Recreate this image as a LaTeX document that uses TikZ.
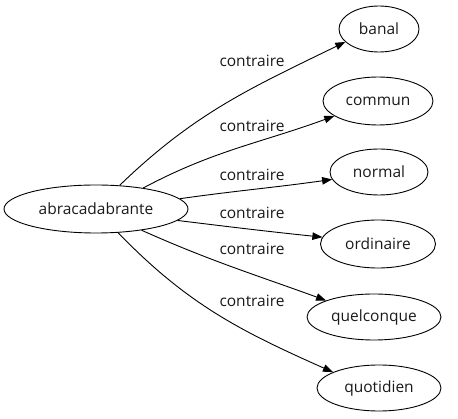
\documentclass[tikz,border=0pt]{standalone}
\usepackage{fontspec}
\setmainfont{Open Sans}
\usetikzlibrary{shapes.geometric,arrows.meta}
\begin{document}
\begin{tikzpicture}[x=1pt,y=1pt,
  word/.style={draw=black, line width=0.9pt, ellipse, inner sep=0pt, text=black!90, font=\fontsize{15.5}{17}\selectfont},
  rel/.style={text=black!90, font=\fontsize{15.5}{17}\selectfont, inner sep=0pt},
  link/.style={line width=0.9pt, -{Triangle[length=10pt,width=7.5pt]}}]
\useasboundingbox (0,0) rectangle (458,-419);
\node[word, minimum width=184, minimum height=48] (main) at (96,-209) {abracadabrante};
\node[word, minimum width=80, minimum height=46] (banal) at (379,-29) {banal};
\node[word, minimum width=110, minimum height=48] (commun) at (378,-101) {commun};
\node[word, minimum width=98, minimum height=46] (normal) at (379,-172) {normal};
\node[word, minimum width=115, minimum height=48] (ordinaire) at (378,-244) {ordinaire};
\node[word, minimum width=134, minimum height=46] (quelconque) at (374,-317) {quelconque};
\node[word, minimum width=124, minimum height=46] (quotidien) at (379,-388) {quotidien};
\node[rel] (l1) at (252,-61) {contraire};
\node[rel] (l2) at (252,-126) {contraire};
\node[rel] (l3) at (252,-175) {contraire};
\node[rel] (l4) at (252,-213) {contraire};
\node[rel] (l5) at (252,-249) {contraire};
\node[rel] (l6) at (252,-301) {contraire};
\draw[link] (main.45) to[out=44, in=206] (banal.201);
\draw[link] (main.24) to[out=28, in=200] (commun.199);
\draw[link] (main.7) to[out=8, in=188] (normal.189);
\draw[link] (main.-8) to[out=-7, in=174] (ordinaire.173);
\draw[link] (main.-25) to[out=-24, in=160] (quelconque.161);
\draw[link] (main.-47) to[out=-46, in=156] (quotidien.161);
\end{tikzpicture}
\end{document}
